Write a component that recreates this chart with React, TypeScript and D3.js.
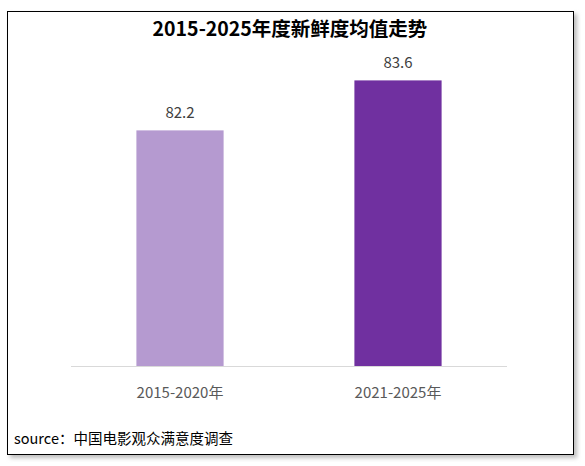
import { useEffect, useRef } from 'react';
import * as d3 from 'd3';

const title = '2015-2025年度新鲜度均值走势';
const periods = ['2015-2020年', '2021-2025年'];
const freshness = [82.2, 83.6];
const barColors = ['#B59AD0', '#7030A0'];
const sourceText = 'source：中国电影观众满意度调查';

const FONT = '"Noto Sans CJK SC", "Microsoft YaHei", sans-serif';

const App = () => {
  const chartRef = useRef<HTMLDivElement>(null);

  useEffect(() => {
    const root = d3.select(chartRef.current);
    root.selectAll('*').remove();

    const W = 585;
    const H = 466;

    const svg = root
      .append('svg')
      .attr('width', W)
      .attr('height', H)
      .style('display', 'block');

    const defs = svg.append('defs');
    const f = defs.append('filter').attr('id', 'shadow').attr('x', '-5%').attr('y', '-5%').attr('width', '110%').attr('height', '110%');
    f.append('feGaussianBlur').attr('stdDeviation', 2);

    // frame + shadow
    svg.append('rect')
      .attr('x', 10).attr('y', 14).attr('width', 567).attr('height', 444)
      .attr('fill', '#bdbdbd').attr('filter', 'url(#shadow)');
    svg.append('rect')
      .attr('x', 7.5).attr('y', 11.5).attr('width', 566).attr('height', 443)
      .attr('fill', '#fff').attr('stroke', '#000').attr('stroke-width', 1);

    svg.append('text')
      .attr('x', 290).attr('y', 36)
      .attr('text-anchor', 'middle')
      .attr('font-family', FONT).attr('font-size', 19.5).attr('font-weight', 'bold')
      .attr('fill', '#000')
      .text(title);

    const x = d3.scaleBand()
      .domain(periods)
      .range([71, 507])
      .paddingInner(0.6)
      .paddingOuter(0.3);

    const y = d3.scaleLinear()
      .domain([75.6, 85])
      .range([366, 366 - 9.4 * 35.7]);

    const data = periods.map((p, i) => ({ p, v: freshness[i], c: barColors[i] }));

    svg.append('g')
      .selectAll('rect')
      .data(data)
      .join('rect')
      .attr('x', d => x(d.p)!)
      .attr('y', d => y(d.v))
      .attr('width', x.bandwidth())
      .attr('height', d => y(75.6) - y(d.v))
      .attr('fill', d => d.c);

    svg.append('g')
      .selectAll('text')
      .data(data)
      .join('text')
      .attr('x', d => x(d.p)! + x.bandwidth() / 2)
      .attr('y', d => y(d.v) - 12)
      .attr('text-anchor', 'middle')
      .attr('font-family', FONT).attr('font-size', 15)
      .attr('fill', '#404040')
      .text(d => d.v.toFixed(1));

    // baseline
    svg.append('line')
      .attr('x1', 71).attr('x2', 507)
      .attr('y1', 366.5).attr('y2', 366.5)
      .attr('stroke', '#D9D9D9').attr('stroke-width', 1);

    svg.append('g')
      .selectAll('text')
      .data(periods)
      .join('text')
      .attr('x', d => x(d)! + x.bandwidth() / 2)
      .attr('y', 398)
      .attr('text-anchor', 'middle')
      .attr('font-family', FONT).attr('font-size', 15)
      .attr('fill', '#595959')
      .text(d => d);

    svg.append('text')
      .attr('x', 14).attr('y', 444)
      .attr('font-family', FONT).attr('font-size', 14.5)
      .attr('fill', '#000')
      .text(sourceText);
  }, []);

  return (
    <div ref={chartRef} style={{ position: 'fixed', left: 0, top: 0, background: '#fff' }}></div>
  );
};

export default App;
